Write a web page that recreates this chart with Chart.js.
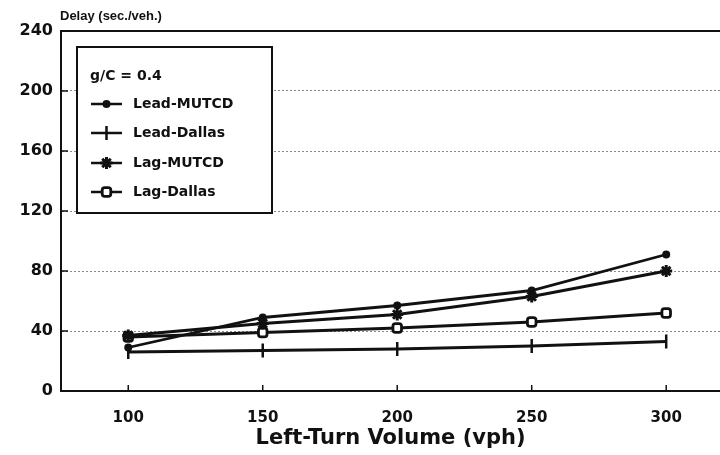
<!DOCTYPE html>
<html>
<head>
<meta charset="utf-8">
<script src="https://cdn.jsdelivr.net/npm/chart.js@4/dist/chart.umd.min.js"></script>
<style>
    html, body { margin: 0; padding: 0; background: #fff; }
    #wrap { width: 720px; height: 455px; position: relative; }
</style>
</head>
<body>
<div id="wrap"><canvas id="delayChart"></canvas></div>
<script>
// Left-turn delay vs volume, g/C = 0.4

const volumes = [100, 150, 200, 250, 300];
const leadMutcd = [29, 49, 57, 67, 91];
const leadDallas = [26, 27, 28, 30, 33];
const lagMutcd = [37, 45, 51, 63, 80];
const lagDallas = [36, 39, 42, 46, 52];

const xTicks = [100, 150, 200, 250, 300];
const yTicks = [0, 40, 80, 120, 160, 200, 240];

const BOLD = '"DejaVu Sans", sans-serif';
const INK = '#111';

function toPoints(values) {
    return volumes.map((v, i) => ({ x: v, y: values[i] }));
}

function series(label, values, style) {
    return Object.assign({
        label: label,
        data: toPoints(values),
        borderColor: INK,
        backgroundColor: INK,
        borderWidth: 2.8,
        pointBorderColor: INK,
        pointBorderWidth: 2,
        tension: 0,
        fill: false
    }, style);
}

const datasets = [
    series('Lead-MUTCD', leadMutcd, { pointStyle: 'circle', pointRadius: 3 }),
    series('Lead-Dallas', leadDallas, { pointStyle: 'line', pointRotation: 90, pointRadius: 7, pointBorderWidth: 2.5 }),
    series('Lag-MUTCD', lagMutcd, { pointStyle: 'star', pointRadius: 6, pointBorderWidth: 3 }),
    series('Lag-Dallas', lagDallas, { pointStyle: 'rectRounded', pointRadius: 5, pointBackgroundColor: '#fff', pointBorderWidth: 2.8 })
];

// Frame, inward tick marks, y label at top and the boxed legend
const decorations = {
    id: 'decorations',
    beforeDatasetsDraw(chart) {
        const { ctx, chartArea: a, scales: { x, y } } = chart;
        ctx.save();
        ctx.strokeStyle = INK;
        ctx.lineWidth = 2;
        // top frame line
        ctx.beginPath();
        ctx.moveTo(a.left, y.getPixelForValue(240));
        ctx.lineTo(a.right, y.getPixelForValue(240));
        ctx.stroke();
        // tick marks pointing into the plot
        ctx.lineWidth = 1.5;
        xTicks.forEach(v => {
            const px = x.getPixelForValue(v);
            ctx.beginPath();
            ctx.moveTo(px, a.bottom);
            ctx.lineTo(px, a.bottom - 6);
            ctx.stroke();
        });
        yTicks.slice(1, -1).forEach(v => {
            const py = y.getPixelForValue(v);
            ctx.beginPath();
            ctx.moveTo(a.left, py);
            ctx.lineTo(a.left + 7, py);
            ctx.stroke();
        });
        ctx.restore();
    },
    afterDraw(chart) {
        const ctx = chart.ctx;
        ctx.save();
        ctx.fillStyle = INK;
        ctx.font = 'bold 13px "Liberation Sans", sans-serif';
        ctx.textAlign = 'left';
        ctx.textBaseline = 'middle';
        ctx.fillText('Delay (sec./veh.)', 60, 16);

        // legend box
        const box = { left: 77, top: 47, right: 272, bottom: 213 };
        ctx.fillStyle = '#fff';
        ctx.fillRect(box.left, box.top, box.right - box.left, box.bottom - box.top);
        ctx.strokeStyle = INK;
        ctx.lineWidth = 2;
        ctx.strokeRect(box.left, box.top, box.right - box.left, box.bottom - box.top);

        ctx.fillStyle = INK;
        ctx.font = 'bold 14px ' + BOLD;
        ctx.fillText('g/C = 0.4', 90, 76);

        const rows = [104, 133, 163, 192];
        chart.data.datasets.forEach((ds, i) => {
            const yy = rows[i];
            ctx.strokeStyle = INK;
            ctx.lineWidth = 2.5;
            ctx.beginPath();
            ctx.moveTo(91, yy);
            ctx.lineTo(122, yy);
            ctx.stroke();
            ctx.fillStyle = ds.pointBackgroundColor || INK;
            ctx.lineWidth = ds.pointBorderWidth;
            Chart.helpers.drawPoint(ctx, {
                pointStyle: ds.pointStyle,
                rotation: ds.pointRotation || 0,
                radius: ds.pointRadius,
                borderWidth: ds.pointBorderWidth
            }, 106.5, yy);
            ctx.fillStyle = INK;
            ctx.fillText(ds.label, 133, yy);
        });
        ctx.restore();
    }
};

const ctx = document.getElementById('delayChart').getContext('2d');
new Chart(ctx, {
    type: 'line',
    data: { datasets: datasets },
    options: {
        responsive: true,
        maintainAspectRatio: false,
        animation: false,
        layout: { autoPadding: false, padding: { top: 31, right: 0, left: 0, bottom: 0 } },
        plugins: {
            legend: { display: false },
            title: { display: false },
            tooltip: { enabled: false }
        },
        scales: {
            x: {
                type: 'linear',
                min: 75,
                max: 320,
                afterBuildTicks: scale => { scale.ticks = xTicks.map(v => ({ value: v })); },
                afterFit: scale => {
                    scale.height = 64;
                    scale.paddingLeft = 0;
                    scale.paddingRight = 0;
                },
                grid: { display: false, drawTicks: false },
                border: { display: true, color: INK, width: 2 },
                ticks: {
                    color: INK,
                    padding: 18,
                    font: { family: BOLD, size: 15, weight: 'bold' }
                },
                title: {
                    display: true,
                    text: 'Left-Turn Volume (vph)',
                    color: INK,
                    font: { family: BOLD, size: 21, weight: 'bold' },
                    padding: { top: 0, bottom: 4 }
                }
            },
            y: {
                min: 0,
                max: 240,
                afterBuildTicks: scale => { scale.ticks = yTicks.map(v => ({ value: v })); },
                afterFit: scale => { scale.width = 61; },
                grid: {
                    drawTicks: false,
                    lineWidth: 1,
                    color: c => (c.tick && c.tick.value > 0 && c.tick.value < 240) ? '#8a8a8a' : 'rgba(0,0,0,0)'
                },
                border: { display: true, color: INK, width: 2, dash: [2, 2] },
                ticks: {
                    color: INK,
                    padding: 8,
                    font: { family: BOLD, size: 16, weight: 'bold' }
                }
            }
        }
    },
    plugins: [decorations]
});
</script>
</body>
</html>
